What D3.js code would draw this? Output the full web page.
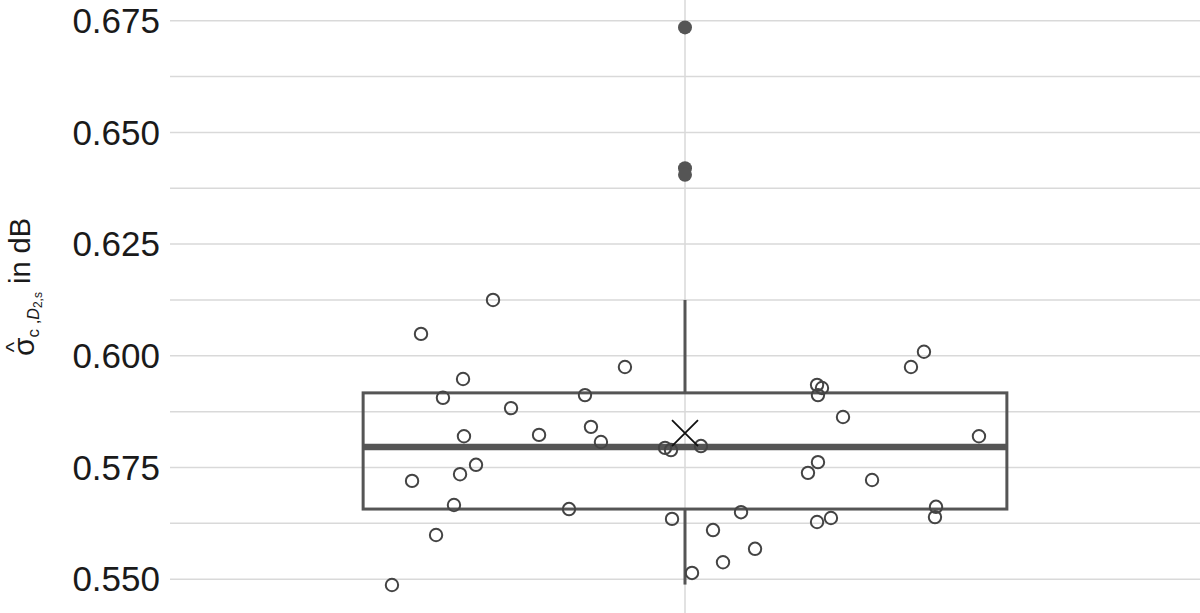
<!DOCTYPE html>
<html>
<head>
<meta charset="utf-8">
<script src="https://cdn.jsdelivr.net/npm/d3@7"></script>
<style>
  body { margin: 0; background: #fff; }
  text { font-family: 'Liberation Sans', Arial, sans-serif; }
</style>
</head>
<body>
<div id="chart"></div>
<script>
// chart data
var yTicks = [0.550, 0.575, 0.600, 0.625, 0.650, 0.675];
var gridValues = [0.550, 0.5625, 0.575, 0.5875, 0.600, 0.6125, 0.625, 0.6375, 0.650, 0.6625, 0.675];

// box summary (q1, median, q3, whiskers, mean)
var boxStats = { lo: 0.5488, q1: 0.5657, median: 0.5796, q3: 0.5917, hi: 0.6125, mean: 0.5827 };
var outliers = [0.6735, 0.6420, 0.6405];

// single observations with their horizontal jitter
var pointValues = [0.5487, 0.6049, 0.5720, 0.5599, 0.5906, 0.5666, 0.5735, 0.5948, 0.5820, 0.5756,
  0.6125, 0.5883, 0.5823, 0.5657, 0.5912, 0.5841, 0.5807, 0.5975, 0.5794, 0.5789,
  0.5635, 0.5514, 0.5798, 0.5610, 0.5538, 0.5650, 0.5568, 0.5738, 0.5628, 0.5935,
  0.5762, 0.5912, 0.5928, 0.5637, 0.5863, 0.5722, 0.5975, 0.6009, 0.5662, 0.5639, 0.5820];
var pointJitter = [-0.2845, -0.2563, -0.2650, -0.2417, -0.2350, -0.2243, -0.2184, -0.2155, -0.2146, -0.2029,
  -0.1864, -0.1689, -0.1417, -0.1126, -0.0971, -0.0913, -0.0816, -0.0583, -0.0194, -0.0136,
  -0.0126, 0.0068, 0.0155, 0.0272, 0.0369, 0.0544, 0.0680, 0.1194, 0.1282, 0.1282,
  0.1291, 0.1291, 0.1330, 0.1417, 0.1534, 0.1816, 0.2194, 0.2320, 0.2437, 0.2427, 0.2854];

var W = 1200, H = 613;
var plotLeft = 170;
var boxHalf = 0.3125;

var x = d3.scaleLinear().domain([-0.5, 0.5]).range([plotLeft, W]);
var y = d3.scaleLinear().domain([0.55, 0.675]).range([579.2, 20.7]);

var svg = d3.select('#chart').append('svg')
  .attr('width', W)
  .attr('height', H);

// horizontal grid
svg.append('g')
  .selectAll('line')
  .data(gridValues)
  .enter().append('line')
  .attr('x1', plotLeft)
  .attr('x2', W)
  .attr('y1', function (d) { return y(d); })
  .attr('y2', function (d) { return y(d); })
  .style('stroke', '#d9d9d9')
  .style('stroke-width', 1.5);

// vertical grid at the category
svg.append('line')
  .attr('x1', x(0)).attr('x2', x(0))
  .attr('y1', 0).attr('y2', H)
  .style('stroke', '#d9d9d9')
  .style('stroke-width', 1.5);

// y tick labels
svg.append('g')
  .selectAll('text')
  .data(yTicks)
  .enter().append('text')
  .attr('x', 160)
  .attr('y', function (d) { return y(d); })
  .attr('dy', '0.35em')
  .style('text-anchor', 'end')
  .style('font-size', '35px')
  .style('fill', '#1a1a1a')
  .text(function (d) { return d3.format('.3f')(d); });

// whiskers
svg.append('line')
  .attr('x1', x(0)).attr('x2', x(0))
  .attr('y1', y(boxStats.q3)).attr('y2', y(boxStats.hi))
  .style('stroke', '#555').style('stroke-width', 3);
svg.append('line')
  .attr('x1', x(0)).attr('x2', x(0))
  .attr('y1', y(boxStats.q1)).attr('y2', y(boxStats.lo))
  .style('stroke', '#555').style('stroke-width', 3);

// box
svg.append('rect')
  .attr('x', x(-boxHalf))
  .attr('y', y(boxStats.q3))
  .attr('width', x(boxHalf) - x(-boxHalf))
  .attr('height', y(boxStats.q1) - y(boxStats.q3))
  .style('fill', 'none')
  .style('stroke', '#555')
  .style('stroke-width', 3);

// median
svg.append('line')
  .attr('x1', x(-boxHalf)).attr('x2', x(boxHalf))
  .attr('y1', y(boxStats.median)).attr('y2', y(boxStats.median))
  .style('stroke', '#555').style('stroke-width', 6.5);

// outliers
svg.append('g')
  .selectAll('circle')
  .data(outliers)
  .enter().append('circle')
  .attr('cx', x(0))
  .attr('cy', function (d) { return y(d); })
  .attr('r', 7)
  .style('fill', '#555');

// jittered points
svg.append('g')
  .selectAll('circle')
  .data(pointValues)
  .enter().append('circle')
  .attr('cx', function (d, i) { return x(pointJitter[i]); })
  .attr('cy', function (d) { return y(d); })
  .attr('r', 6.2)
  .style('fill', 'none')
  .style('stroke', '#444')
  .style('stroke-width', 2);

// mean marker
var mSize = 13;
var mx = x(0), my = y(boxStats.mean);
svg.append('path')
  .attr('d', 'M' + (mx - mSize) + ',' + (my - mSize) + 'L' + (mx + mSize) + ',' + (my + mSize) +
             'M' + (mx - mSize) + ',' + (my + mSize) + 'L' + (mx + mSize) + ',' + (my - mSize))
  .style('stroke', '#111')
  .style('stroke-width', 1.8)
  .style('fill', 'none');

// y axis label
var ylab = svg.append('text')
  .attr('transform', 'translate(34,287) rotate(-90)')
  .style('text-anchor', 'middle')
  .style('fill', '#1a1a1a');
ylab.append('tspan').style('font-size', '30px').text('σ');
ylab.append('tspan').style('font-size', '17px').attr('dy', 5).text('c ,');
ylab.append('tspan').style('font-size', '16px').style('font-style', 'italic').text('D');
ylab.append('tspan').style('font-size', '12px').attr('dy', 3).text('2,s');
ylab.append('tspan').style('font-size', '29px').attr('dy', -12).text(' in dB');

// hat over sigma
svg.append('text')
  .attr('transform', 'translate(20.5,347) rotate(-90)')
  .style('text-anchor', 'middle')
  .style('font-size', '22px')
  .style('fill', '#1a1a1a')
  .text('^');
</script>
</body>
</html>
